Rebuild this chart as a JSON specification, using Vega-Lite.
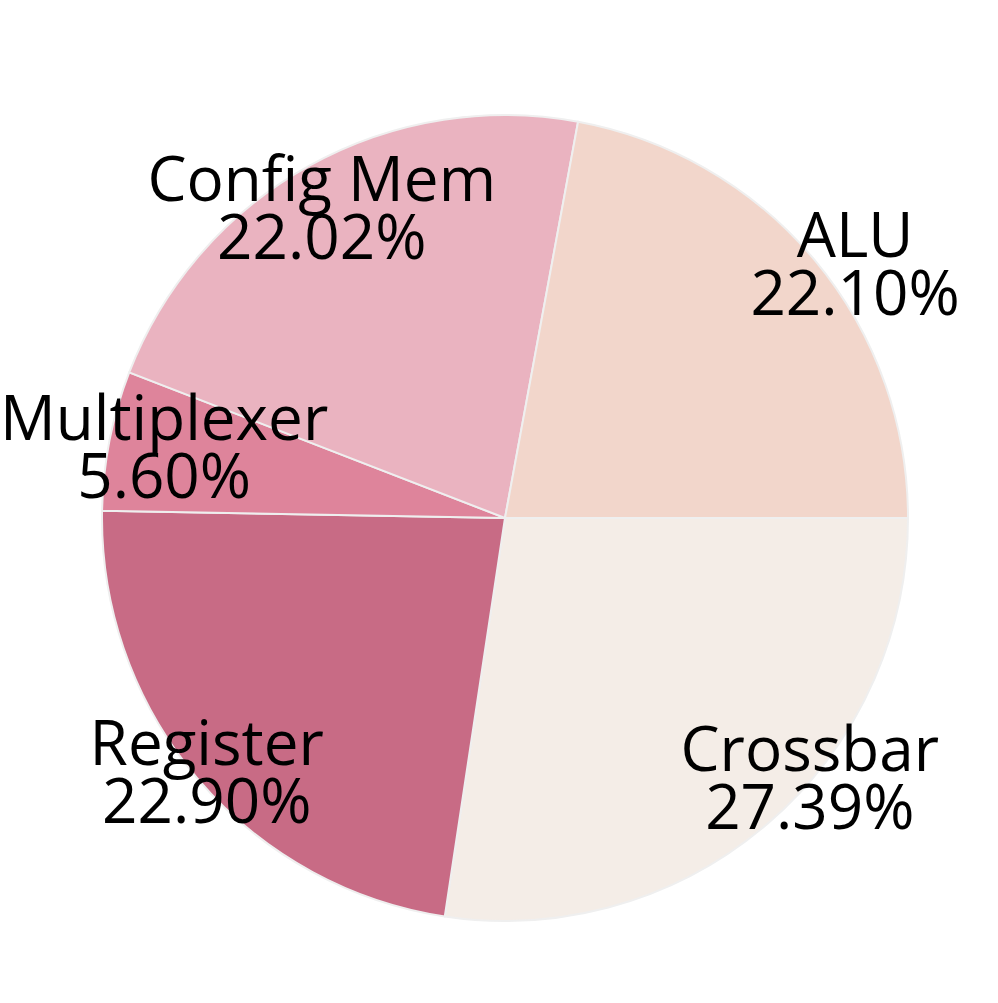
{
  "$schema": "https://vega.github.io/schema/vega-lite/v6.json",
  "width": 986,
  "height": 966,
  "autosize": {"type": "none"},
  "padding": {"left": 12, "top": 35, "right": 0, "bottom": 0},
  "background": "white",
  "config": {"view": {"stroke": null}},
  "data": {
    "values": [
      {"component": "Crossbar", "share": 27.39, "rank": 1, "label": "Crossbar\n27.39%"},
      {"component": "Register", "share": 22.90, "rank": 2, "label": "Register\n22.90%"},
      {"component": "Multiplexer", "share": 5.60, "rank": 3, "label": "Multiplexer\n5.60%"},
      {"component": "Config Mem", "share": 22.02, "rank": 4, "label": "Config Mem\n22.02%"},
      {"component": "ALU", "share": 22.10, "rank": 5, "label": "ALU\n22.10%"}
    ]
  },
  "encoding": {
    "theta": {"field": "share", "type": "quantitative", "stack": true, "scale": {"range": [1.5708, 7.854]}},
    "order": {"field": "rank", "type": "quantitative"}
  },
  "layer": [
    {
      "mark": {"type": "arc", "outerRadius": 403, "stroke": "#EFEFEF", "strokeWidth": 2},
      "encoding": {
        "color": {
          "field": "component", "type": "nominal", "legend": null,
          "scale": {
            "domain": ["Crossbar", "Register", "Multiplexer", "Config Mem", "ALU"],
            "range": ["#F4EDE7", "#C86B85", "#DE849B", "#EAB3C0", "#F2D6CB"]
          }
        }
      }
    },
    {
      "mark": {"type": "text", "radius": 380, "dx": 57, "dy": -54, "font": "Open Sans", "fontSize": 62, "lineHeight": 58, "lineBreak": "\n", "align": "center", "baseline": "middle", "color": "black"},
      "encoding": {"text": {"condition": {"test": "datum.component == 'Crossbar'", "field": "label"}, "value": ""}}
    },
    {
      "mark": {"type": "text", "radius": 380, "dx": -8, "dy": -17, "font": "Open Sans", "fontSize": 62, "lineHeight": 58, "lineBreak": "\n", "align": "center", "baseline": "middle", "color": "black"},
      "encoding": {"text": {"condition": {"test": "datum.component == 'Register'", "field": "label"}, "value": ""}}
    },
    {
      "mark": {"type": "text", "radius": 380, "dx": 32, "dy": -24, "font": "Open Sans", "fontSize": 62, "lineHeight": 58, "lineBreak": "\n", "align": "center", "baseline": "middle", "color": "black"},
      "encoding": {"text": {"condition": {"test": "datum.component == 'Multiplexer'", "field": "label"}, "value": ""}}
    },
    {
      "mark": {"type": "text", "radius": 380, "dx": 2, "dy": -4, "font": "Open Sans", "fontSize": 62, "lineHeight": 58, "lineBreak": "\n", "align": "center", "baseline": "middle", "color": "black"},
      "encoding": {"text": {"condition": {"test": "datum.component == 'Config Mem'", "field": "label"}, "value": ""}}
    },
    {
      "mark": {"type": "text", "radius": 380, "dx": 58, "dy": -37, "font": "Open Sans", "fontSize": 62, "lineHeight": 58, "lineBreak": "\n", "align": "center", "baseline": "middle", "color": "black"},
      "encoding": {"text": {"condition": {"test": "datum.component == 'ALU'", "field": "label"}, "value": ""}}
    }
  ]
}
